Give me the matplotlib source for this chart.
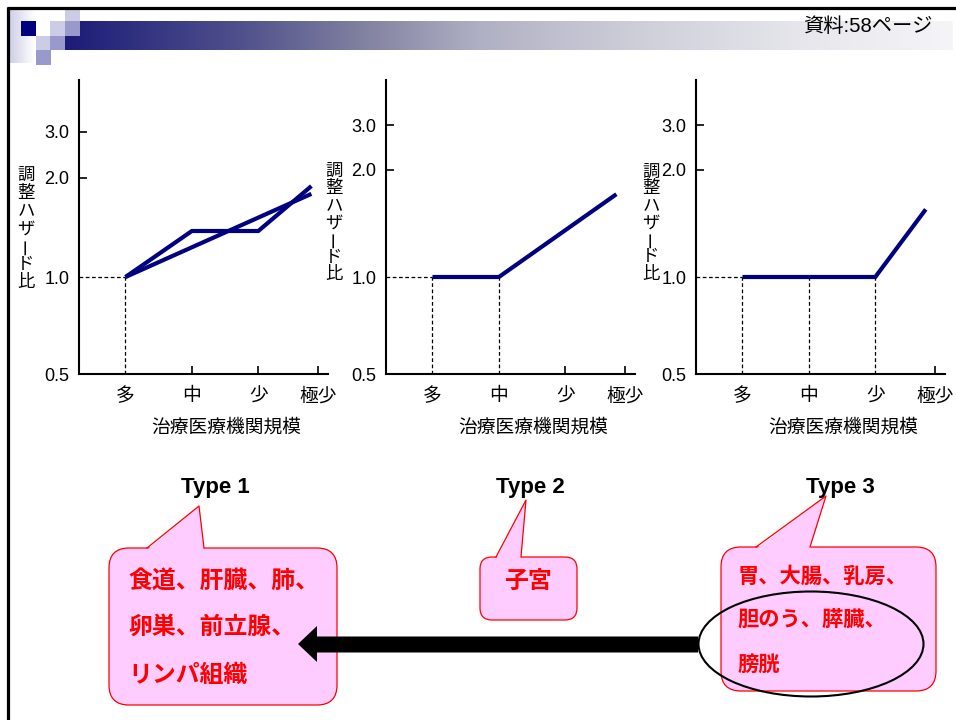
import numpy as np
import matplotlib
matplotlib.use("Agg")
import matplotlib.pyplot as plt
from matplotlib.patches import FancyBboxPatch, Polygon, Ellipse, Rectangle
from matplotlib.ticker import NullLocator

plt.rcParams['font.family'] = ['Liberation Sans', 'Noto Sans CJK JP']

# ---------------- data ----------------
categories = ['多', '中', '少', '極少']
cat_pos = [0, 1, 2, 2.9]
yticks = [0.5, 1.0, 2.0, 3.0]
ytick_labels = ['0.5', '1.0', '2.0', '3.0']
ylabel_text = '調整ハザード比'
xlabel_text = '治療医療機関規模'

type1_a_x = [0, 1, 2, 2.8]
type1_a_y = [1.0, 1.38, 1.38, 1.89]
type1_b_x = [0, 2.8]
type1_b_y = [1.0, 1.79]
type2_x = [0, 1, 2.77]
type2_y = [1.0, 1.0, 1.71]
type3_x = [0, 1, 2, 2.76]
type3_y = [1.0, 1.0, 1.0, 1.55]

type_titles = ['Type 1', 'Type 2', 'Type 3']
type1_sites = ['食道、肝臓、肺、', '卵巣、前立腺、', 'リンパ組織']
type2_sites = ['子宮']
type3_sites = ['胃、大腸、乳房、', '胆のう、膵臓、', '膀胱']
source_text = '資料:58ページ'

# ---------------- layout ----------------
W, H = 956, 720
fig = plt.figure(figsize=(W / 100, H / 100), dpi=100)
fig.patch.set_facecolor('white')

ov = fig.add_axes([0, 0, 1, 1], zorder=0)
ov.set_xlim(0, W)
ov.set_ylim(H, 0)
ov.axis('off')

NAVY = '#000080'
PINK = '#ffccff'
RED = '#ff0000'

# header decoration
fade = np.ones((2, 50, 3))
t = np.linspace(0, 1, 50)
for c, v in enumerate([208, 208, 232]):
    fade[:, :, c] = (v + (255 - v) * t) / 255
ov.imshow(fade, extent=(10, 35, 63, 10), aspect='auto', zorder=1, interpolation='bilinear')

gx = np.linspace(65, 953, 400)
ax_anchor = [65, 240, 360, 480, 630, 800, 953]
col_anchor = np.array([(28, 28, 120), (80, 80, 140), (128, 128, 160), (176, 176, 196),
                       (205, 205, 216), (230, 230, 236), (245, 245, 248)]) / 255
grad = np.zeros((2, len(gx), 3))
for c in range(3):
    grad[:, :, c] = np.interp(gx, ax_anchor, col_anchor[:, c])
ov.imshow(grad, extent=(65, 953, 50, 21), aspect='auto', zorder=1, interpolation='bilinear')

LIGHT = '#ccccE6'
MED = '#9999cc'
for (x, y, w, h, col) in [(21, 21, 15, 15, NAVY), (50, 21, 15, 15, LIGHT), (65, 21, 15, 15, MED),
                          (65, 9, 15, 12, LIGHT), (36, 36, 14, 14, LIGHT), (50, 36, 15, 14, MED),
                          (36, 50, 15, 15, MED)]:
    ov.add_patch(Rectangle((x, y), w, h, fc=col, ec='none', zorder=2))

ov.plot([7, W], [7.5, 7.5], color='black', lw=2.3, zorder=3, solid_capstyle='butt')
ov.plot([8.5, 8.5], [6.5, H], color='black', lw=2.3, zorder=3, solid_capstyle='butt')

ov.text(803, 26, source_text, fontsize=14.6, ha='left', va='center', color='black', zorder=4)

# ---------------- charts ----------------
LV = np.array([-3, -1, 0, 1, np.log2(3), 2, 4])


def make_funcs(kp):
    kp = np.array(kp, float)

    def fwd(y):
        y = np.asarray(y, float)
        return np.interp(np.log2(np.clip(y, 1e-9, None)), LV, kp)

    def inv(p):
        p = np.asarray(p, float)
        return 2 ** np.interp(p, kp, LV)
    return fwd, inv


charts = [
    dict(left=79, knots=[-194, 0, 97, 196, 242, 294, 490], lines=[(type1_a_x, type1_a_y), (type1_b_x, type1_b_y)],
         dashed=[0], ylab=(26, 175, 17.8)),
    dict(left=386, knots=[-194, 0, 97, 204, 249, 294, 490], lines=[(type2_x, type2_y)],
         dashed=[0, 1], ylab=(334, 170.5, 17.3)),
    dict(left=696, knots=[-194, 0, 97, 204, 249, 294, 490], lines=[(type3_x, type3_y)],
         dashed=[0, 1, 2], ylab=(651, 171.5, 17.0)),
]
TOP, BOT, AW = 80, 374, 249
XL = (-0.7, 3.05)

for ch in charts:
    l = ch['left']
    ax = fig.add_axes([l / W, 1 - BOT / H, AW / W, (BOT - TOP) / H], zorder=5)
    ax.patch.set_alpha(0)
    fwd, inv = make_funcs(ch['knots'])
    ax.set_yscale('function', functions=(fwd, inv))
    ax.set_ylim(0.5, 4.0)
    ax.set_xlim(*XL)
    for s in ['top', 'right']:
        ax.spines[s].set_visible(False)
    for s in ['left', 'bottom']:
        ax.spines[s].set_linewidth(1.5)

    ax.hlines(1.0, XL[0], 0, colors='black', linestyles=(0, (3, 2)), lw=0.9)
    for xd in ch['dashed']:
        ax.vlines(cat_pos[xd], 0.5, 1.0, colors='black', linestyles=(0, (3, 2)), lw=0.9)

    for xs, ys in ch['lines']:
        ax.plot(xs, ys, color=NAVY, lw=3.0, solid_capstyle='butt', solid_joinstyle='miter', clip_on=False)

    ax.set_yticks(yticks, ytick_labels)
    ax.yaxis.set_minor_locator(NullLocator())
    ax.tick_params(axis='y', direction='in', length=6, width=1.2, pad=7, labelsize=13)
    for i, tk in enumerate(ax.yaxis.get_major_ticks()):
        if yticks[i] < 2:
            tk.tick1line.set_visible(False)

    ax.set_xticks(cat_pos, categories)
    ax.tick_params(axis='x', direction='in', length=6, width=1.2, pad=10, labelsize=13.5)
    for i, tk in enumerate(ax.xaxis.get_major_ticks()):
        if i in ch['dashed']:
            tk.tick1line.set_visible(False)

    # x label
    ov.text(l + AW / 2 + 23, 428, xlabel_text, fontsize=13.5, ha='center', va='center', zorder=6)
    # vertical y label
    x0, y0, step = ch['ylab']
    for i, c in enumerate(ylabel_text):
        ov.text(x0, y0 + i * step, c, fontsize=12.5, ha='center', va='center',
                rotation=90 if c == 'ー' else 0, family=['Noto Sans CJK JP'], zorder=6)

# ---------------- bottom annotations ----------------
for (cx, title) in zip([215, 530, 840], type_titles):
    ov.text(cx, 487, title, fontsize=16, fontweight='bold', ha='center', va='center', zorder=6)


def callout(x0, y0, x1, y1, rad, tip, b1, b2):
    ov.add_patch(FancyBboxPatch((x0, y0), x1 - x0, y1 - y0,
                                boxstyle=f'round,pad=0,rounding_size={rad}',
                                fc=PINK, ec=RED, lw=0.9, zorder=3))
    ov.add_patch(Polygon([(b1[0], b1[1] + 2), tip, (b2[0], b2[1] + 2)], closed=True,
                         fc=PINK, ec='none', zorder=3.1))
    ov.plot([b1[0], tip[0], b2[0]], [b1[1], tip[1], b2[1]], color=RED, lw=0.9, zorder=3.2)


callout(109, 548, 337, 705, 20, (199, 506), (147, 548), (204, 548))
callout(480, 557, 577, 620, 12, (526, 500), (496, 557), (521, 557))
callout(721, 547, 936, 691, 20, (826, 496), (756, 547), (810, 547))

for i, s in enumerate(type1_sites):
    ov.text(128, [581, 627, 675][i], s, fontsize=17.2, fontweight='bold', color=RED,
            ha='left', va='center', family=['Noto Sans CJK JP'], zorder=5)
ov.text(528, 581, type2_sites[0], fontsize=17.2, fontweight='bold', color=RED,
        ha='center', va='center', family=['Noto Sans CJK JP'], zorder=5)
for i, s in enumerate(type3_sites):
    ov.text(738, [576, 619, 664][i], s, fontsize=15.3, fontweight='bold', color=RED,
            ha='left', va='center', family=['Noto Sans CJK JP'], zorder=5)

ov.add_patch(Ellipse((811, 644), 225, 105, fill=False, ec='black', lw=1.5, zorder=4))
ov.add_patch(Polygon([(298, 644), (317, 626), (317, 636.5), (698, 636.5), (698, 652.5),
                      (317, 652.5), (317, 662)], closed=True, fc='black', ec='none', zorder=4))

fig.savefig('out.png', dpi=100)
